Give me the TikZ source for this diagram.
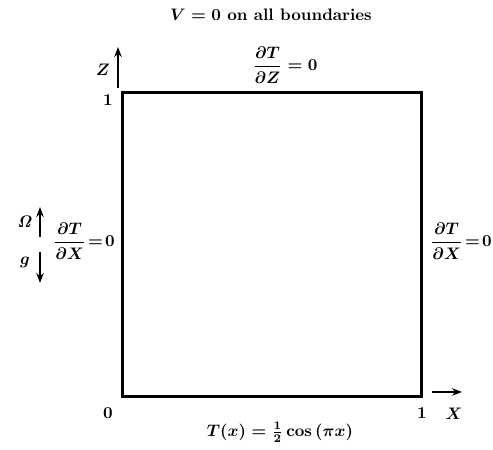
\documentclass[tikz,border=0pt]{standalone}
\usepackage{amsmath,amssymb}
\usetikzlibrary{arrows.meta,positioning}
\tikzset{
    % Heavy outline of the cavity
    wallline/.style={
        line width=1.8pt,
        line cap=rect
    },
    axisarrow/.style={
        -{Stealth[length=6pt,width=4.5pt]},
        line width=0.9pt
    },
    bctext/.style={
        inner sep=0pt,
        font=\bfseries\boldmath
    }
}

\begin{document}
\begin{tikzpicture}[x=0.6pt, y=-0.6pt]
            \useasboundingbox (0,0) rectangle (493,450);

            % Domain
            \coordinate (sw) at (122,397);
            \coordinate (ne) at (421,93);
            \draw[wallline] (sw) rectangle (ne);

            % Boundary conditions
            \node[bctext] (title) at (271,15) {$V=0$ on all boundaries};
            \node[bctext] (topbc) at (285,65) {$\dfrac{\partial T}{\partial Z}=0$};
            \node[bctext] (leftbc) at (84,241) {$\dfrac{\partial T}{\partial X}\!=\!0$};
            \node[bctext] (rightbc) at (461,241) {$\dfrac{\partial T}{\partial X}\!=\!0$};
            \node[bctext] (bottombc) at (280,432) {$T(x)=\tfrac{1}{2}\cos{(\pi x)}$};

            % Axes and ticks
            \node[bctext] (origin) at (108,413) {0};
            \node[bctext] (zone) at (108,100) {1};
            \node[bctext] (xone) at (422,413) {1};
            \node[bctext] (zlab) at (103,70) {$Z$};
            \node[bctext] (xlab) at (454,414) {$X$};
            \coordinate (zfoot) at (118,88);
            \coordinate (ztip) at (118,47);
            \coordinate (xfoot) at (432,392);
            \coordinate (xtip) at (462,392);
            \draw[axisarrow] (zfoot) -- (ztip);
            \draw[axisarrow] (xfoot) -- (xtip);

            % Rotation and gravity
            \node[bctext] (omega) at (25,222) {$\mathit{\Omega}$};
            \node[bctext] (grav) at (25,262) {$g$};
            \coordinate (omfoot) at (40,237);
            \coordinate (omtip) at (40,207);
            \coordinate (gfoot) at (40,252);
            \coordinate (gtip) at (40,283);
            \draw[axisarrow] (omfoot) -- (omtip);
            \draw[axisarrow] (gfoot) -- (gtip);
        \end{tikzpicture}
\end{document}
